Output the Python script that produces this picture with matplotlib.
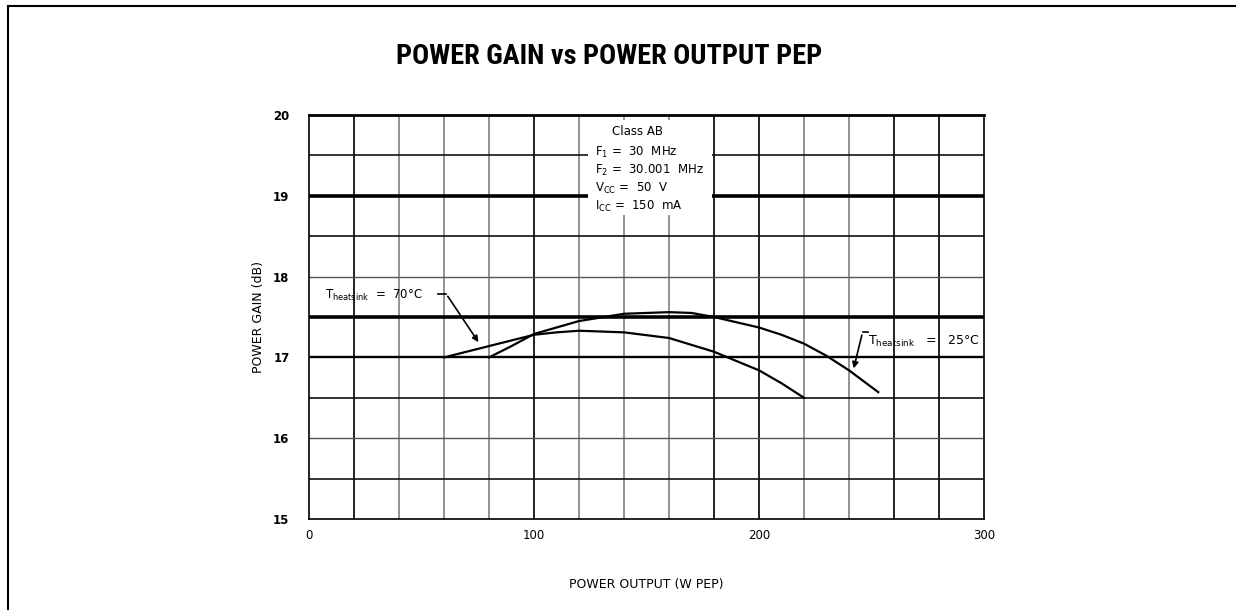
import matplotlib
matplotlib.use('Agg')
import matplotlib.pyplot as plt
from matplotlib import font_manager as fm
from matplotlib.lines import Line2D
from matplotlib.patches import Rectangle

# ---------------- data ----------------
x_ticks = [0, 100, 200, 300]
y_ticks = [15, 16, 17, 18, 19, 20]

p_25 = [80, 90, 100, 120, 140, 160, 170, 180, 200, 210, 220, 230, 240, 253]
g_25 = [17.0, 17.14, 17.29, 17.45, 17.54, 17.56, 17.55, 17.50, 17.37, 17.28, 17.17, 17.02, 16.84, 16.57]

p_70 = [60, 80, 100, 110, 120, 140, 160, 180, 200, 210, 220]
g_70 = [17.0, 17.14, 17.28, 17.31, 17.33, 17.31, 17.24, 17.07, 16.84, 16.68, 16.5]

cond_lines = ["Class AB",
              r"F$_\mathregular{1}$ =  30  MHz",
              r"F$_\mathregular{2}$ =  30.001  MHz",
              r"V$_\mathregular{CC}$ =  50  V",
              r"I$_\mathregular{CC}$ =  150  mA"]

# ---------------- fonts ----------------
names = {f.name for f in fm.fontManager.ttflist}
narrow = next((n for n in ['Liberation Sans Narrow', 'Roboto Condensed', 'Open Sans Condensed']
               if n in names), None)
title_font = dict(family=[narrow, 'DejaVu Sans'] if narrow else ['DejaVu Sans'],
                  stretch='normal' if narrow else 'condensed')

plt.rcParams['font.family'] = ['DejaVu Sans']
plt.rcParams['mathtext.default'] = 'regular'

fig = plt.figure(figsize=(12.36, 6.10), dpi=100)
ax = fig.add_axes([309/1236, 1-519/610, (984-309)/1236, (519-115)/610])
ax.set_xlim(0, 300)
ax.set_ylim(15, 20)

# grid lines
vlines_dark = [20, 100, 180, 200, 260, 280]
for v in range(20, 300, 20):
    if v in vlines_dark:
        ax.axvline(v, color='#111111', lw=1.3, zorder=0.5)
    else:
        ax.axvline(v, color='#8a8a8a', lw=1.3, zorder=0.5)
hl_style = {19.5: ('#111111', 1.2), 19.0: ('#000000', 2.6), 18.5: ('#111111', 1.2),
            18.0: ('#555555', 1.0), 17.5: ('#000000', 2.6), 17.0: ('#000000', 1.7),
            16.5: ('#111111', 1.2), 16.0: ('#555555', 1.0), 15.5: ('#111111', 1.2)}
for h, (c, w) in hl_style.items():
    ax.axhline(h, color=c, lw=w, zorder=0.5)

for s in ax.spines.values():
    s.set_color('black')
    s.set_linewidth(1.2)
ax.spines['top'].set_linewidth(2.0)

ax.set_xticks(x_ticks)
ax.set_yticks(y_ticks)
ax.tick_params(length=0)
ax.tick_params(axis='x', pad=7, labelsize=8.5)
ax.tick_params(axis='y', pad=14, labelsize=8.5)
for lab in ax.get_yticklabels():
    lab.set_fontweight('bold')

ax.set_xlabel("POWER OUTPUT (W PEP)", fontsize=9, labelpad=26)
ax.set_ylabel("POWER GAIN (dB)", fontsize=9, labelpad=6)

# white box for conditions
ax.add_patch(Rectangle((124, 18.76), 55, 1.18, facecolor='white', edgecolor='none', zorder=3))
ax.text(134.5, 19.79, cond_lines[0], fontsize=8.5, va='center', ha='left', zorder=4)
for i, t in enumerate(cond_lines[1:]):
    ax.text(127, 19.54 - i*0.225, t, fontsize=8.5, va='center', ha='left', zorder=4)

# curves
ax.plot(p_25, g_25, color='black', lw=1.6, zorder=4)
ax.plot(p_70, g_70, color='black', lw=1.6, zorder=4)

# annotations
ax.text(7, 17.73, r"T$_\mathregular{heatsink}$  =  70°C", fontsize=8.5, va='baseline', ha='left', zorder=5)
ax.plot([57.5, 61], [17.785, 17.785], color='black', lw=1.2, zorder=5)
ax.annotate('', xy=(76, 17.16), xytext=(61, 17.785),
            arrowprops=dict(arrowstyle='-|>', color='black', lw=1.2, mutation_scale=9), zorder=5)

ax.text(248.5, 17.16, r"T$_\mathregular{heatsink}$   =   25°C", fontsize=9, va='baseline', ha='left', zorder=5)
ax.plot([248.3, 246], [17.31, 17.31], color='black', lw=1.2, zorder=5)
ax.annotate('', xy=(241.8, 16.83), xytext=(246, 17.31),
            arrowprops=dict(arrowstyle='-|>', color='black', lw=1.2, mutation_scale=9), zorder=5)

# title
fig.text(609/1236, 1-57/610, "POWER GAIN vs POWER OUTPUT PEP", ha='center', va='center',
         fontsize=20.3, fontweight='bold', **title_font)

# page frame (top and left edges)
fig.add_artist(Line2D([8/1236, 1.0], [1-6/610, 1-6/610], color='black', lw=1.5, transform=fig.transFigure))
fig.add_artist(Line2D([8/1236, 8/1236], [0.0, 1-6/610], color='black', lw=1.5, transform=fig.transFigure))

fig.savefig('out.png', dpi=100)
